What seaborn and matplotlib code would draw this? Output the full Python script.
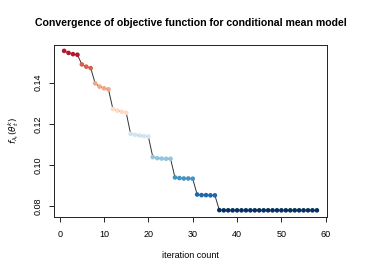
import matplotlib
matplotlib.use("Agg")
import matplotlib.pyplot as plt
import seaborn as sns
import pandas as pd

# objective value per iteration
iteration = list(range(1, 59))
objective = [
    0.1555, 0.1545, 0.1539, 0.1536,
    0.1489, 0.1478, 0.1471,
    0.1397, 0.1381, 0.1373, 0.1368,
    0.1272, 0.1264, 0.1259, 0.1254,
    0.1151, 0.1146, 0.1143, 0.1140, 0.1138,
    0.1038, 0.1033, 0.1031, 0.1030, 0.1030,
    0.0939, 0.0936, 0.0934, 0.0934, 0.0933,
    0.0856, 0.0853, 0.0853, 0.0852, 0.0852,
] + [0.0780] + [0.0779] * 22
stage = [1] * 4 + [2] * 3 + [3] * 4 + [4] * 4 + [5] * 5 + [6] * 5 + [7] * 5 + [8] * 5 + [9] * 23
stage_colors = ["#B2182B", "#D6604D", "#F4A582", "#FDDBC7", "#D1E5F0",
                "#92C5DE", "#4393C3", "#2166AC", "#053061"]

df = pd.DataFrame({"iteration": iteration, "objective": objective, "stage": stage})

sns.set_style("ticks")
plt.rcParams["font.family"] = ["Liberation Sans", "DejaVu Sans"]
plt.rcParams["text.color"] = "black"
plt.rcParams["axes.labelcolor"] = "black"
plt.rcParams["xtick.color"] = "black"
plt.rcParams["ytick.color"] = "black"

fig = plt.figure(figsize=(3.82, 2.73), dpi=100)
ax = fig.add_axes([54 / 382, 1 - 216.7 / 273, (327 - 54) / 382, (216.7 - 44.7) / 273])

sns.lineplot(data=df, x="iteration", y="objective", color="#333333", linewidth=0.7, ax=ax)
sns.scatterplot(data=df, x="iteration", y="objective", hue="stage", palette=stage_colors,
                s=11, linewidth=0, legend=False, ax=ax, zorder=3)

ax.set_xlim(-1.28, 60.28)
ax.set_ylim(0.0748, 0.1585)
ax.set_xticks([0, 10, 20, 30, 40, 50, 60])
ax.set_yticks([0.08, 0.10, 0.12, 0.14])
ax.set_yticklabels(["0.08", "0.10", "0.12", "0.14"], rotation=90, va="center")
ax.tick_params(labelsize=6.5, length=3.5, width=0.6)
ax.tick_params(axis="x", pad=6)
ax.tick_params(axis="y", pad=5)
for sp in ax.spines.values():
    sp.set_linewidth(0.7)
    sp.set_color("#222222")

ax.set_xlabel("iteration count", fontsize=6.5, labelpad=9)
ax.set_ylabel(r"$f_{\lambda_t}(\theta_t^k)$", fontsize=6.5, labelpad=9)
fig.suptitle("Convergence of objective function for conditional mean model",
             fontsize=7.6, fontweight="bold", y=1 - 23 / 273, va="center")

fig.savefig("out.png", dpi=100)
